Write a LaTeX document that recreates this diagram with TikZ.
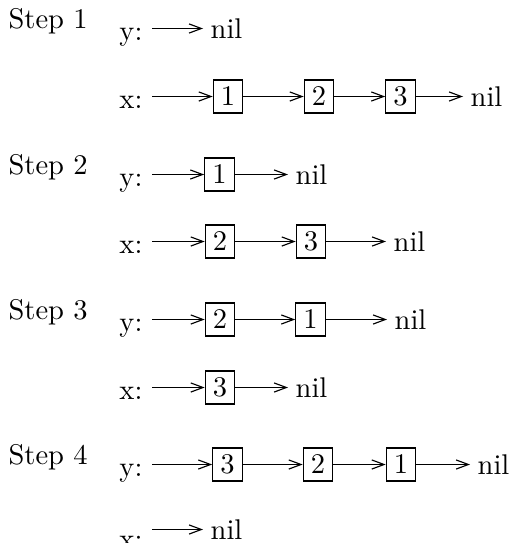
\documentclass[tikz,border=0pt]{standalone}
\usetikzlibrary{arrows.meta}
\begin{document}
\begin{tikzpicture}[x=0.3509pt,y=-0.3509pt,
  box/.style={draw, minimum width=10.35pt, minimum height=11.6pt, inner sep=0pt},
  nilnode/.style={anchor=west, inner sep=2.5pt},
  lbl/.style={anchor=base east, inner sep=0pt},
  steplbl/.style={anchor=base west, inner sep=0pt},
  link/.style={-{Straight Barb[length=4.3pt,width=3.2pt]}}]
\useasboundingbox (0,0) rectangle (509,543);
% Step 1
\node[steplbl] (st1) at (8,29) {Step 1};
\node[lbl] (ly1) at (143,40.5) {y:};
\coordinate (sy1) at (152,28.5);
\node[nilnode] (ny1) at (203,28.5) {nil};
\draw[link] (sy1) -- (ny1.west);
\node[lbl] (lx1) at (143,108.5) {x:};
\coordinate (sx1) at (152,96.5);
\node[box] (a11) at (228,96.5) {1};
\node[box] (a12) at (319,96.5) {2};
\node[box] (a13) at (400.5,96.5) {3};
\node[nilnode] (nx1) at (463,96.5) {nil};
\draw[link] (sx1) -- (a11.west);
\draw[link] (a11.east) -- (a12.west);
\draw[link] (a12.east) -- (a13.west);
\draw[link] (a13.east) -- (nx1.west);
% Step 2
\node[steplbl] (st2) at (8,174.5) {Step 2};
\node[lbl] (ly2) at (143,186.5) {y:};
\coordinate (sy2) at (152,174.5);
\node[box] (b21) at (219.5,174.5) {1};
\node[nilnode] (ny2) at (288,174.5) {nil};
\draw[link] (sy2) -- (b21.west);
\draw[link] (b21.east) -- (ny2.west);
\node[lbl] (lx2) at (143,253.5) {x:};
\coordinate (sx2) at (152,241.5);
\node[box] (a22) at (220,241.5) {2};
\node[box] (a23) at (311,241.5) {3};
\node[nilnode] (nx2) at (386,241.5) {nil};
\draw[link] (sx2) -- (a22.west);
\draw[link] (a22.east) -- (a23.west);
\draw[link] (a23.east) -- (nx2.west);
% Step 3
\node[steplbl] (st3) at (8,319.5) {Step 3};
\node[lbl] (ly3) at (143,331.5) {y:};
\coordinate (sy3) at (152,319.5);
\node[box] (b32) at (220,319.5) {2};
\node[box] (b31) at (310.5,319.5) {1};
\node[nilnode] (ny3) at (387,319.5) {nil};
\draw[link] (sy3) -- (b32.west);
\draw[link] (b32.east) -- (b31.west);
\draw[link] (b31.east) -- (ny3.west);
\node[lbl] (lx3) at (143,399.5) {x:};
\coordinate (sx3) at (152,387.5);
\node[box] (a33) at (220,387.5) {3};
\node[nilnode] (nx3) at (288,387.5) {nil};
\draw[link] (sx3) -- (a33.west);
\draw[link] (a33.east) -- (nx3.west);
% Step 4
\node[steplbl] (st4) at (8,464.5) {Step 4};
\node[lbl] (ly4) at (143,476.5) {y:};
\coordinate (sy4) at (152,464.5);
\node[box] (b43) at (227.5,464.5) {3};
\node[box] (b42) at (318,464.5) {2};
\node[box] (b41) at (401,464.5) {1};
\node[nilnode] (ny4) at (470,464.5) {nil};
\draw[link] (sy4) -- (b43.west);
\draw[link] (b43.east) -- (b42.west);
\draw[link] (b42.east) -- (b41.west);
\draw[link] (b41.east) -- (ny4.west);
\node[lbl] (lx4) at (143,548) {x:};
\coordinate (sx4) at (152,529.5);
\node[nilnode] (nx4) at (203,529.5) {nil};
\draw[link] (sx4) -- (nx4.west);
\end{tikzpicture}
\end{document}
